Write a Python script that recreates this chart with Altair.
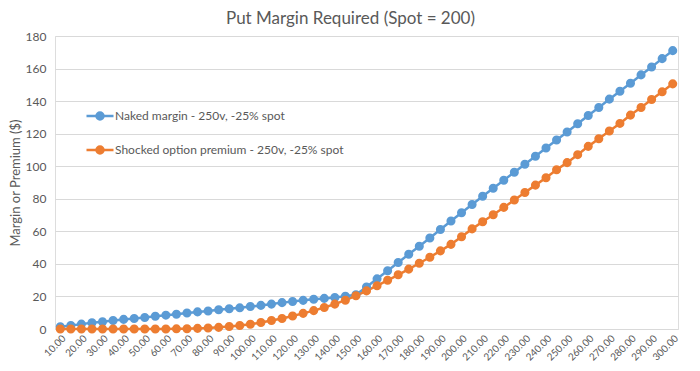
import altair as alt
import pandas as pd

strikes = list(range(10, 305, 5))
naked = [1.4, 2.2, 3.0, 3.8, 4.5, 5.2, 5.9, 6.5, 7.1, 7.8,
         8.5, 9.1, 9.8, 10.5, 11.1, 11.8, 12.4, 13.0, 13.8, 14.5,
         15.3, 16.2, 16.9, 17.6, 18.3, 18.8, 19.4, 20.1, 21.0, 25.8,
         30.8, 35.8, 40.9, 45.9, 50.8, 55.9, 61.1, 66.3, 71.4, 76.5,
         81.6, 86.5, 91.4, 96.3, 101.2, 106.1, 111.2, 116.1, 121.0, 126.1,
         131.2, 136.1, 141.2, 146.1, 151.0, 156.1, 161.0, 166.1, 171.0]
shocked = [0.0, 0.0, 0.0, 0.0, 0.0, 0.0, 0.0, 0.0, 0.0, 0.0,
           0.0, 0.1, 0.2, 0.4, 0.6, 1.0, 1.5, 2.1, 2.9, 4.0,
           5.2, 6.5, 8.0, 9.6, 11.3, 13.2, 15.3, 17.7, 20.4, 23.4,
           26.6, 29.9, 33.3, 36.8, 40.4, 44.1, 48.0, 52.0, 56.7, 61.5,
           65.9, 70.2, 74.7, 79.2, 83.9, 88.4, 92.9, 97.8, 102.2, 107.1,
           112.2, 116.9, 121.6, 126.3, 131.4, 136.1, 141.0, 145.7, 150.6]
series_names = ["Naked margin - 250v, -25% spot",
                "Shocked option premium - 250v, -25% spot"]
colors = ["#5B9BD5", "#ED7D31"]
x_ticks = list(range(10, 310, 10))
y_ticks = list(range(0, 200, 20))

df = pd.DataFrame({
    "strike": strikes * 2,
    "value": naked + shocked,
    "series": [series_names[0]] * len(strikes) + [series_names[1]] * len(strikes),
})

font = "Lato"
grey = "#595959"

x_enc = alt.X("strike:Q",
              scale=alt.Scale(domain=[7.5, 302.5], nice=False, zero=False),
              axis=alt.Axis(values=x_ticks, format=".2f", labelAngle=-45,
                            grid=False, ticks=False, domain=False,
                            labelFontSize=10, labelColor=grey, labelFont=font,
                            labelPadding=4, title=None, labelOverlap=False))
y_enc = alt.Y("value:Q",
              scale=alt.Scale(domain=[0, 180], nice=False),
              axis=alt.Axis(values=y_ticks, grid=True, gridColor="#D9D9D9",
                            gridWidth=1, domain=False, ticks=False,
                            labelPadding=9, labelFontSize=12, labelColor=grey,
                            labelFont=font, title="Margin or Premium ($)",
                            titleFontSize=13, titleFontWeight="normal",
                            titleColor=grey, titleFont=font, titlePadding=3))

color_scale = alt.Scale(domain=series_names, range=colors)
symbol_path = "M-1,0H1M-0.26,0A0.26,0.26,0,1,0,0.26,0A0.26,0.26,0,1,0,-0.26,0Z"

legend = alt.Legend(orient="none", legendX=30, legendY=65,
                    title=None, symbolType=symbol_path,
                    symbolSize=729, symbolStrokeWidth=2.5,
                    labelFontSize=12, labelFont=font,
                    labelColor=grey, labelLimit=500,
                    rowPadding=10, labelOffset=0)

line = alt.Chart(df).mark_line(strokeWidth=2.5).encode(
    x=x_enc, y=y_enc,
    stroke=alt.Stroke("series:N", scale=color_scale, legend=legend),
)

points = alt.Chart(df).mark_point(filled=True, size=50, opacity=1).encode(
    x=x_enc, y=y_enc,
    fill=alt.Fill("series:N", scale=color_scale, legend=legend),
    stroke=alt.Stroke("series:N", scale=color_scale, legend=legend),
)

chart = alt.layer(line, points).properties(
    width=623, height=293,
    title=alt.TitleParams("Put Margin Required (Spot = 200)", fontSize=17,
                          font=font, color=grey, fontWeight="normal",
                          offset=2, dx=-16, anchor="middle"),
    autosize=alt.AutoSizeParams(type="none"),
    padding={"left": 47, "top": 28, "right": 14, "bottom": 34},
).configure_view(stroke=None).configure(background="white")

chart.save("out.html", embed_options={"renderer": "svg", "actions": False})
